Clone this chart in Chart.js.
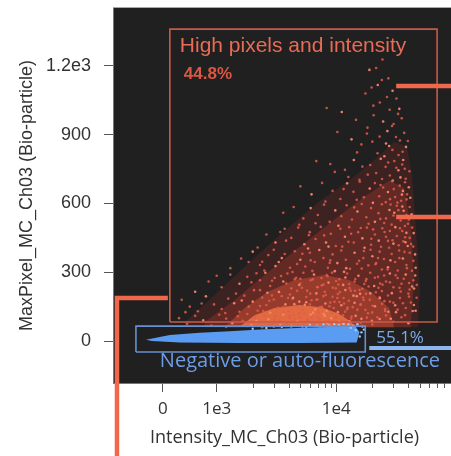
<!DOCTYPE html>
<html>
<head>
<meta charset="utf-8">
<script src="https://cdn.jsdelivr.net/npm/chart.js@4.4.1/dist/chart.umd.min.js"></script>
<style>
  html, body { margin: 0; padding: 0; background: #ffffff; overflow: hidden; }
  #wrap { position: relative; width: 460px; height: 456px; }
</style>
</head>
<body>
<div id="wrap"><canvas id="c" width="460" height="456"></canvas></div>
<script>
// ---- axis ticks ----
const xTickValues = [0, 1000, 10000];
const xTickLabels = ['0', '1e3', '1e4'];
const xMinorTicks = [2000, 3000, 4000, 5000, 6000, 7000, 8000, 9000,
                     20000, 30000, 40000, 50000, 60000, 70000, 80000, 90000];
const yTickValues = [0, 300, 600, 900, 1200];
const yTickLabels = ['0', '300', '600', '900', '1.2e3'];

// ---- gates (intensity, max pixel) ----
const highGate = [[130, 83], [130, 1361], [69500, 1361], [69500, 83], [130, 83]];
const negGate = [[-500, -48], [-500, 65], [17450, 65], [17450, -48], [-500, -48]];
const leftGateEdge = [[93, 188], [-852, 188], [-852, -502]];
const upperGateEdge = [[31620, 1113], [100000, 1113]];
const lowerGateEdge = [[31620, 541], [100000, 541]];
const negMarker = [[18840, -30], [100000, -30]];
const highPct = '44.8%';
const negPct = '55.1%';

// ---- density contours of the high pixel / intensity population ----
const highDensityOuter = [[407, 60], [407, 83], [963, 201], [1884, 345], [3687, 480], [7218, 610],
  [12830, 700], [20730, 790], [30430, 870], [39060, 850], [42990, 720], [46420, 484], [50120, 223],
  [48200, 83], [48200, 60], [407, 60]];
const highDensityMid = [[778, 60], [778, 83], [1413, 179], [2512, 288], [4917, 410], [9624, 530],
  [17110, 630], [27650, 700], [36870, 670], [42170, 484], [44670, 266], [42170, 83], [42170, 60], [778, 60]];
const highDensityDense = [[1166, 60], [1711, 144], [2661, 214], [4467, 266], [7943, 288], [12830, 266],
  [19570, 214], [27650, 144], [30430, 60], [1166, 60]];
const highDensityCore = [[1555, 62], [2073, 113], [3043, 144], [4917, 157], [7499, 148], [10590, 118],
  [13340, 83], [14130, 61], [1555, 62]];

// ---- negative / auto-fluorescence population outline ----
const negDensity = [[-315, 6], [130, 26], [685, 36], [1284, 43], [2284, 50], [4058, 56], [7218, 60],
  [11660, 63], [14500, 62], [15600, 40], [14800, -6], [4917, -8], [1555, -8], [315, -6], [-204, 0], [-315, 6]];

// ---- individual events ----
const highEvents = [
  [18900, 1183], [21500, 1191], [24300, 1228], [27200, 1146], [22200, 1117], [24000, 1139], [19700, 1106],
  [26500, 1065], [29500, 1092], [31800, 1058], [17500, 1080], [23100, 1041], [33600, 1013], [27900, 1009], [20400, 1027],
  [8300, 1017], [11100, 999], [14600, 965], [20500, 985], [35200, 972], [24600, 958], [30100, 947], [32800, 991],
  [18200, 931], [26700, 916], [36900, 908], [29200, 938],
  [10200, 912], [13400, 880], [18000, 905], [20000, 870], [23000, 892], [26000, 862], [31500, 890], [34000, 875],
  [16200, 858], [38200, 847], [29400, 834], [35800, 826], [22100, 819], [27600, 851], [33100, 812], [14900, 823],
  [39600, 873], [25200, 806],
  [6800, 785], [8900, 772], [11800, 747], [14000, 790], [16500, 761], [19200, 768], [21500, 733], [23500, 795],
  [25800, 760], [28000, 722], [30500, 785], [33000, 745], [35500, 770], [38000, 708], [12600, 716], [36200, 790],
  [31700, 756], [27100, 779], [40800, 741], [34300, 714], [24100, 707], [18300, 726], [9700, 738], [29600, 700],
  [37300, 752], [15600, 703],
  [5000, 675], [6200, 640], [7600, 690], [9300, 655], [10800, 620], [12300, 688], [13900, 651], [15700, 695],
  [17000, 627], [19000, 665], [21000, 689], [22800, 632], [24600, 670], [27000, 650], [29300, 697], [31000, 628],
  [33800, 678], [36000, 655], [39000, 640], [37500, 693], [34800, 612], [40300, 671], [25900, 606], [30200, 663],
  [28100, 619], [20200, 603], [14800, 616], [8100, 609], [11500, 663], [35300, 639], [38600, 618], [32400, 604],
  [23400, 681], [41500, 625],
  [3600, 560], [4400, 585], [5300, 535], [6100, 580], [7000, 550], [7900, 595], [8800, 520], [9800, 570],
  [11000, 545], [12200, 592], [13500, 530], [15000, 565], [16300, 598], [17800, 540], [19500, 580], [21000, 520],
  [22500, 558], [24000, 597], [26000, 535], [27800, 572], [30000, 548], [32000, 590], [34500, 526], [36500, 568],
  [38500, 550], [41000, 585], [29000, 508], [30500, 560], [33000, 571], [40500, 530], [4900, 507], [10400, 503],
  [18600, 512], [25100, 515], [37400, 502], [42600, 553], [14100, 583], [6700, 514], [23300, 533], [35600, 587],
  [28400, 596], [39700, 512],
  [2600, 465], [3100, 430], [3700, 490], [4200, 450], [4800, 495], [5400, 422], [6000, 475], [6700, 445],
  [7400, 498], [8200, 430], [9000, 468], [9900, 415], [10800, 490], [11800, 455], [12800, 497], [14000, 430],
  [15200, 475], [16500, 448], [18000, 495], [19500, 420], [21000, 465], [22600, 438], [24200, 492], [26000, 455],
  [28000, 480], [30000, 425], [32000, 458], [34000, 492], [36300, 435], [38500, 472], [41000, 450], [43000, 495],
  [35500, 480], [39500, 415], [29500, 440], [2200, 408], [3400, 476], [5800, 404], [7900, 461], [11200, 412],
  [13300, 468], [17200, 407], [20300, 487], [23600, 411], [27000, 437], [31100, 497], [33200, 418], [37600, 453],
  [42100, 423], [44300, 471], [25300, 476], [16000, 493],
  [1600, 360], [2000, 390], [2300, 332], [2700, 375], [3000, 398], [3300, 345], [3700, 380], [4100, 320],
  [4500, 392], [5000, 355], [5500, 325], [6000, 385], [6600, 345], [7200, 397], [7800, 362], [8500, 320],
  [9300, 378], [10200, 340], [11000, 395], [12000, 355], [13000, 315], [14200, 385], [15500, 350], [17000, 393],
  [18500, 330], [20000, 370], [21500, 340], [23000, 390], [25000, 358], [27000, 322], [29000, 380], [31000, 345],
  [33500, 395], [36000, 360], [38500, 332], [41000, 385], [44000, 350], [46000, 320], [1300, 318], [1850, 345],
  [2500, 308], [3500, 362], [4700, 336], [6300, 306], [8900, 352], [11600, 302], [14900, 337], [19300, 398],
  [24000, 312], [28300, 352], [32600, 308], [37100, 389], [42800, 307], [45500, 378], [16300, 316], [22300, 362],
  [5200, 381], [9700, 305],
  [850, 260], [1100, 235], [1300, 290], [1550, 250], [1800, 280], [2050, 222], [2300, 265], [2550, 298],
  [2800, 240], [3050, 275], [3300, 215], [3600, 260], [3900, 295], [4200, 230], [4500, 270], [4900, 245],
  [5300, 298], [5700, 220], [6100, 265], [6500, 290], [7000, 235], [7500, 275], [8000, 215], [8600, 255],
  [9200, 298], [9900, 230], [10600, 270], [11400, 245], [12300, 295], [13200, 220], [14200, 260], [15300, 285],
  [16500, 228], [17800, 270], [19200, 298], [20700, 240], [22300, 280], [24000, 218], [26000, 260], [28000, 295],
  [30000, 235], [32500, 275], [35000, 250], [38000, 290], [41000, 225], [44000, 265], [47000, 245], [600, 215],
  [1000, 285], [1450, 207], [1950, 256], [2650, 211], [3450, 284], [4100, 203], [5000, 272], [6800, 208],
  [8300, 288], [10300, 205], [12800, 249], [15800, 206], [18600, 238], [21400, 213], [25100, 286], [29100, 209],
  [33700, 232], [36600, 272], [40000, 207], [45600, 286], [2150, 296], [4700, 219], [7800, 246], [11900, 223],
  [17100, 249], [23200, 251], [31300, 287], [43000, 238],
  [350, 180], [500, 150], [650, 130], [800, 195], [950, 160], [1100, 140], [1250, 185], [1400, 165],
  [1550, 128], [1700, 198], [1850, 150], [2000, 172], [2200, 132], [2400, 190], [2600, 157], [2800, 124],
  [3000, 181], [3250, 145], [3500, 196], [3750, 160], [4000, 128], [4300, 184], [4600, 153], [4900, 172],
  [5200, 136], [5600, 192], [6000, 160], [6400, 124], [6800, 180], [7300, 148], [7800, 196], [8300, 132],
  [8900, 168], [9500, 144], [10200, 188], [11000, 156], [11800, 128], [12700, 176], [13700, 148], [14800, 196],
  [16000, 160], [17500, 136], [19000, 180], [21000, 152], [23000, 192], [25500, 140], [28000, 172], [31000, 156],
  [34000, 188], [38000, 144], [42000, 168], [46000, 132], [420, 126], [720, 164], [1180, 122], [1620, 177],
  [2300, 153], [2900, 199], [3600, 126], [4450, 161], [5400, 121], [6200, 178], [7100, 127], [8100, 164],
  [9200, 123], [10600, 170], [12300, 139], [14200, 167], [16700, 190], [19900, 125], [24100, 162], [27200, 128],
  [32500, 137], [36000, 165], [40500, 194], [44500, 157],
  [300, 100], [450, 75], [600, 110], [750, 90], [900, 68], [1050, 115], [1200, 98], [1350, 78],
  [1500, 108], [1650, 88], [1800, 118], [1950, 70], [2100, 102], [2300, 82], [2500, 112], [2700, 95],
  [2900, 72], [3100, 108], [3350, 90], [3600, 116], [3850, 78], [4100, 100], [4400, 114], [4700, 85],
  [5000, 104], [5300, 70], [5700, 96], [6100, 116], [6500, 80], [7000, 102], [7500, 75], [8000, 110],
  [8600, 92], [9200, 68], [9900, 104], [10600, 85], [11400, 112], [12300, 76], [13300, 98], [14500, 110],
  [16000, 80], [18000, 102], [20000, 72], [23000, 96], [26000, 112], [30000, 84], [35000, 104], [40000, 78],
  [1200, 62], [1800, 66], [2400, 60], [3000, 64], [3600, 68], [4200, 62], [4900, 66], [5600, 61],
  [6400, 67], [7300, 63], [8200, 69], [9300, 62], [10500, 66], [12000, 63], [14000, 68],
  [2150, 88], [2450, 131], [2750, 176], [3050, 94], [3320, 214], [3580, 147], [3820, 251], [4050, 109],
  [4350, 189], [4620, 276], [4880, 121], [5150, 232], [5450, 158], [5750, 87], [6050, 207], [6350, 269],
  [6650, 139], [6950, 181], [7250, 94], [7550, 243], [7850, 118], [8150, 201], [8450, 283], [8750, 152],
  [9050, 99], [9350, 233], [9650, 171], [9950, 262], [10300, 126], [10700, 214], [11100, 91], [11500, 188],
  [11900, 277], [12400, 146], [12900, 231], [13400, 107], [13900, 198], [14400, 271], [15000, 137], [15600, 223],
  [16200, 97], [16900, 179], [17600, 262], [18400, 121], [19200, 208], [20100, 154], [21000, 276], [22000, 104],
  [23100, 187], [24300, 246], [25600, 131], [27000, 199], [28500, 97], [30000, 167], [2300, 222], [2900, 263],
  [3400, 71], [3950, 188], [4500, 96], [5000, 251], [5600, 169], [6200, 102], [6900, 236], [7600, 149],
  [8400, 77], [9300, 193], [10400, 247], [11600, 164], [12900, 86], [14300, 219], [15900, 158], [17700, 206],
  [19800, 88], [22500, 232], [25200, 174], [28000, 256], [31500, 126], [34500, 216], [37500, 113], [40500, 253],
  [43500, 131], [26800, 312], [21200, 335], [16800, 362], [12100, 318], [8800, 341], [6100, 352], [4300, 301],
  [3100, 327], [2400, 346], [33600, 362], [38900, 318], [44600, 229], [46800, 189], [3800, 438], [5900, 462],
  [8600, 412], [12600, 433], [19600, 446], [27600, 407], [37800, 431], [43900, 412]
];
const negEvents = [
  [2000, 54], [2600, 57], [3500, 62], [4200, 66], [5200, 64], [6000, 70], [6900, 67], [7800, 72],
  [8700, 68], [9600, 73], [10500, 70], [11500, 75], [12600, 72], [13800, 67], [15000, 73], [16500, 63],
  [17000, 50], [14500, 47], [16200, 38], [15700, 20], [13200, 58]
];

// ---- hyperlog-style axis: linear below 1e3, logarithmic above ----
function hlog(v) { return v < 1000 ? 2.55 + 0.00045 * v : Math.log10(v); }
function hlogInv(t) { return t < 3 ? (t - 2.55) / 0.00045 : Math.pow(10, t); }

class HyperlogScale extends Chart.LinearScale {
  static id = 'hyperlog';
  static defaults = Chart.LinearScale.defaults;
  determineDataLimits() {
    this.min = this.options.min;
    this.max = this.options.max;
  }
  buildTicks() {
    return xTickValues.map(v => ({ value: v }));
  }
  configure() {
    super.configure();
    this._tMin = hlog(this.min);
    this._tMax = hlog(this.max);
  }
  getPixelForValue(v) {
    return this.getPixelForDecimal((hlog(v) - this._tMin) / (this._tMax - this._tMin));
  }
  getValueForPixel(p) {
    return hlogInv(this._tMin + this.getDecimalForPixel(p) * (this._tMax - this._tMin));
  }
}
Chart.register(HyperlogScale);

const pts = a => a.map(([x, y]) => ({ x, y }));

function lineDs(data, color, width, order, extra) {
  return Object.assign({
    type: 'line', data: pts(data), borderColor: color, borderWidth: width,
    borderJoinStyle: 'miter', pointRadius: 0, fill: false, tension: 0, order
  }, extra || {});
}
function areaDs(data, color, order) {
  return {
    type: 'line', data: pts(data), borderWidth: 0, borderColor: 'rgba(0,0,0,0)',
    backgroundColor: color, fill: 'shape', pointRadius: 0, tension: 0, order
  };
}

const datasets = [
  areaDs(highDensityOuter, 'rgba(150,42,36,0.24)', 21),
  areaDs(highDensityMid, 'rgba(200,62,46,0.28)', 20),
  areaDs(highDensityDense, 'rgba(236,90,60,0.38)', 19),
  areaDs(highDensityCore, 'rgba(255,125,72,0.72)', 18),
  { type: 'scatter', data: pts(highEvents), pointRadius: 1.3, borderWidth: 0,
    backgroundColor: c => (c.dataIndex % 4 === 0 ? 'rgba(250,132,106,0.95)' : 'rgba(226,92,74,0.85)'),
    order: 15 },
  areaDs(negDensity, '#5a9cf2', 12),
  { type: 'scatter', data: pts(negEvents), pointRadius: 1.2, borderWidth: 0,
    backgroundColor: '#a4c8f8', order: 11 },
  lineDs(highGate, '#c85a4a', 1.6, 5),
  lineDs(negGate, '#6890d0', 1.6, 5),
  lineDs(leftGateEdge, '#f0684c', 4.5, 4, { clip: false }),
  lineDs(upperGateEdge, '#f0684c', 4.5, 4),
  lineDs(lowerGateEdge, '#f0684c', 4.5, 4),
  lineDs(negMarker, '#8cb6ef', 4, 4)
];

const gateLabels = [
  { text: 'High pixels and intensity', x: 315, y: 1261, font: '21px "Liberation Sans", Arial, sans-serif', color: '#e86b57' },
  { text: highPct, x: 389, y: 1143, font: 'bold 17px "Liberation Sans", Arial, sans-serif', color: '#dc5644' },
  { text: negPct, x: 21540, y: -9, font: '17px "Open Sans", sans-serif', color: '#7ea8e6' },
  { text: 'Negative or auto-fluorescence', x: -56, y: -113, font: '20px "Open Sans", sans-serif', color: '#6e9de6' }
];

const plotBackground = {
  id: 'plotBackground',
  beforeDraw(chart) {
    const { ctx, chartArea: a } = chart;
    ctx.save();
    ctx.fillStyle = '#202020';
    ctx.fillRect(a.left, a.top, a.right - a.left, a.bottom - a.top);
    ctx.strokeStyle = '#a8a8a8';
    ctx.lineWidth = 1;
    ctx.beginPath();
    ctx.moveTo(a.left, a.top - 0.5);
    ctx.lineTo(a.right, a.top - 0.5);
    ctx.stroke();
    ctx.restore();
  }
};

const minorTicks = {
  id: 'minorTicks',
  afterDraw(chart) {
    const { ctx, chartArea: a, scales: { x } } = chart;
    ctx.save();
    ctx.strokeStyle = '#555';
    ctx.lineWidth = 1;
    ctx.beginPath();
    xMinorTicks.forEach(v => {
      const px = Math.round(x.getPixelForValue(v)) + 0.5;
      if (px < a.left || px > a.right) return;
      ctx.moveTo(px, a.bottom);
      ctx.lineTo(px, a.bottom + 5);
    });
    ctx.stroke();
    ctx.restore();
  }
};

const gateText = {
  id: 'gateText',
  afterDatasetsDraw(chart) {
    const { ctx, scales: { x, y } } = chart;
    ctx.save();
    ctx.textAlign = 'left';
    ctx.textBaseline = 'alphabetic';
    gateLabels.forEach(l => {
      ctx.font = l.font;
      ctx.fillStyle = l.color;
      ctx.fillText(l.text, x.getPixelForValue(l.x), y.getPixelForValue(l.y));
    });
    ctx.restore();
  }
};

new Chart(document.getElementById('c'), {
  type: 'scatter',
  data: { datasets },
  options: {
    responsive: false,
    animation: false,
    events: [],
    layout: { padding: { top: 8, right: 3, left: 0, bottom: 0 } },
    plugins: { legend: { display: false }, tooltip: { enabled: false } },
    scales: {
      x: {
        type: 'hyperlog', min: -926, max: 100000,
        afterFit: s => { s.height = 73; s.paddingLeft = 0; s.paddingRight = 0; },
        grid: { drawOnChartArea: false, tickLength: 9, tickColor: '#555', tickWidth: 1 },
        border: { color: '#777', width: 1 },
        ticks: {
          autoSkip: false, maxRotation: 0, padding: 7, color: '#333',
          font: { family: 'Open Sans', size: 17 },
          callback: v => xTickLabels[xTickValues.indexOf(v)]
        },
        title: {
          display: true, text: 'Intensity_MC_Ch03 (Bio-particle)', color: '#333',
          font: { family: 'Open Sans', size: 18 }, padding: { top: 0, bottom: 7 }
        }
      },
      y: {
        type: 'linear', min: -183, max: 1453,
        afterFit: s => { s.width = 113; s.paddingTop = 0; s.paddingBottom = 0; },
        afterBuildTicks: s => { s.ticks = yTickValues.map(v => ({ value: v })); },
        grid: { drawOnChartArea: false, tickLength: 9, tickColor: '#555', tickWidth: 1 },
        border: { color: '#777', width: 1 },
        ticks: {
          padding: 13, color: '#333',
          font: { family: 'Liberation Sans', size: 18 },
          callback: v => yTickLabels[yTickValues.indexOf(v)]
        },
        title: {
          display: true, text: 'MaxPixel_MC_Ch03 (Bio-particle)', color: '#333',
          font: { family: 'Liberation Sans', size: 18 }, padding: { top: 16, bottom: 0 }
        }
      }
    }
  },
  plugins: [plotBackground, minorTicks, gateText]
});
</script>
</body>
</html>
